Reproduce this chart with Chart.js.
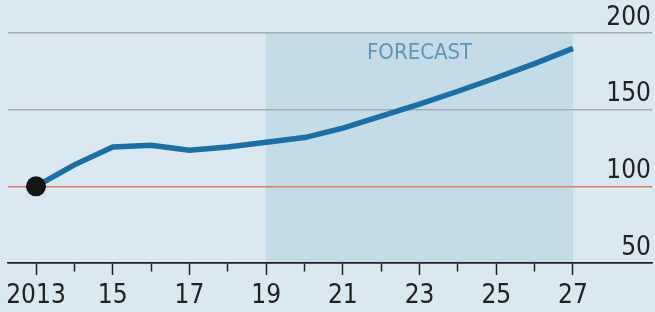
<!DOCTYPE html>
<html>
<head>
<meta charset="utf-8">
<script src="https://cdn.jsdelivr.net/npm/chart.js@4"></script>
<style>
  html, body { margin: 0; padding: 0; background: #d9e8f1; }
  #wrap { width: 655px; height: 312px; }
</style>
</head>
<body>
<div id="wrap"><canvas id="chart"></canvas></div>
<script>
var years = [2013, 2014, 2015, 2016, 2017, 2018, 2019, 2020, 2021, 2022, 2023, 2024, 2025, 2026, 2027]
var values = [100, 114, 125.7, 126.8, 123.5, 125.7, 128.8, 131.8, 138, 145.8, 153.6, 162, 170.8, 180, 190]
var forecastFrom = 2019
var forecastTo = 2027
var forecastLabel = "FORECAST"
var yTicks = [50, 100, 150, 200]

var fontFamily = "'DejaVu Sans Condensed', 'Liberation Sans', sans-serif"

// shaded forecast box, drawn before the grid so the lines stay on top
var forecastBox = {
  id: 'forecastBox',
  beforeDraw: function(chart) {
    var ctx = chart.ctx
    var area = chart.chartArea
    var x = chart.scales.x
    var x1 = x.getPixelForValue(forecastFrom)
    var x2 = x.getPixelForValue(forecastTo)
    ctx.save()
    ctx.fillStyle = '#c4dce8'
    ctx.fillRect(x1, area.top, x2 - x1, area.bottom - area.top)
    ctx.fillStyle = '#5f95b7'
    ctx.font = "22px " + fontFamily
    ctx.textAlign = 'center'
    ctx.textBaseline = 'middle'
    ctx.fillText(forecastLabel, (x1 + x2) / 2, area.top + 20)
    ctx.restore()
  }
}

function showChart() {
  var ctx = document.getElementById('chart').getContext('2d');

  new Chart(ctx, {
    type: 'line',
    data: {
      datasets: [{
        data: years.map(function(y, i) { return { x: y, y: values[i] } }),
        borderColor: '#1b6fa4',
        borderWidth: 5.5,
        tension: 0,
        pointRadius: function(c) { return c.dataIndex === 0 ? 10 : 0 },
        pointBackgroundColor: '#151515',
        pointBorderWidth: 0
      }]
    },
    plugins: [forecastBox],
    options: {
      responsive: true,
      maintainAspectRatio: false,
      animation: false,
      layout: {
        autoPadding: false,
        padding: { left: 8, right: 3, top: 33, bottom: 0 }
      },
      plugins: {
        legend: { display: false },
        tooltip: { enabled: false }
      },
      scales: {
        x: {
          type: 'linear',
          min: 2012.27,
          max: 2029.06,
          afterFit: function(s) {
            s.height = 49
            s.paddingLeft = 0
            s.paddingRight = 0
          },
          afterBuildTicks: function(s) {
            s.ticks = years.map(function(y) { return { value: y } })
          },
          ticks: {
            autoSkip: false,
            maxRotation: 0,
            padding: 6,
            color: '#222',
            font: { family: fontFamily, size: 26 },
            callback: function(v) {
              if (v === years[0]) return String(v)
              if (v % 2 === 1) return String(v).slice(2)
              return ''
            }
          },
          grid: {
            drawOnChartArea: false,
            tickLength: 12,
            tickWidth: 1.5,
            tickColor: '#222',
            tickBorderDash: function(c) {
              return c.tick && c.tick.value % 2 === 0 ? [8, 40] : []
            }
          },
          border: { color: '#222', width: 1.5 }
        },
        y: {
          position: 'right',
          min: 50,
          max: 200,
          afterFit: function(s) {
            s.width = 0
            s.paddingTop = 0
            s.paddingBottom = 0
          },
          afterBuildTicks: function(s) {
            s.ticks = yTicks.map(function(v) { return { value: v } })
          },
          ticks: {
            mirror: true,
            padding: -1,
            labelOffset: -15,
            color: '#222',
            font: { family: fontFamily, size: 26 }
          },
          grid: {
            drawTicks: false,
            lineWidth: 1.5,
            color: function(c) {
              var v = c.tick ? c.tick.value : null
              if (v === 100) return '#e07a70'
              if (v === 50) return '#222'
              return '#a3adb4'
            }
          },
          border: { display: false }
        }
      }
    }
  });
}

showChart()
</script>
</body>
</html>
